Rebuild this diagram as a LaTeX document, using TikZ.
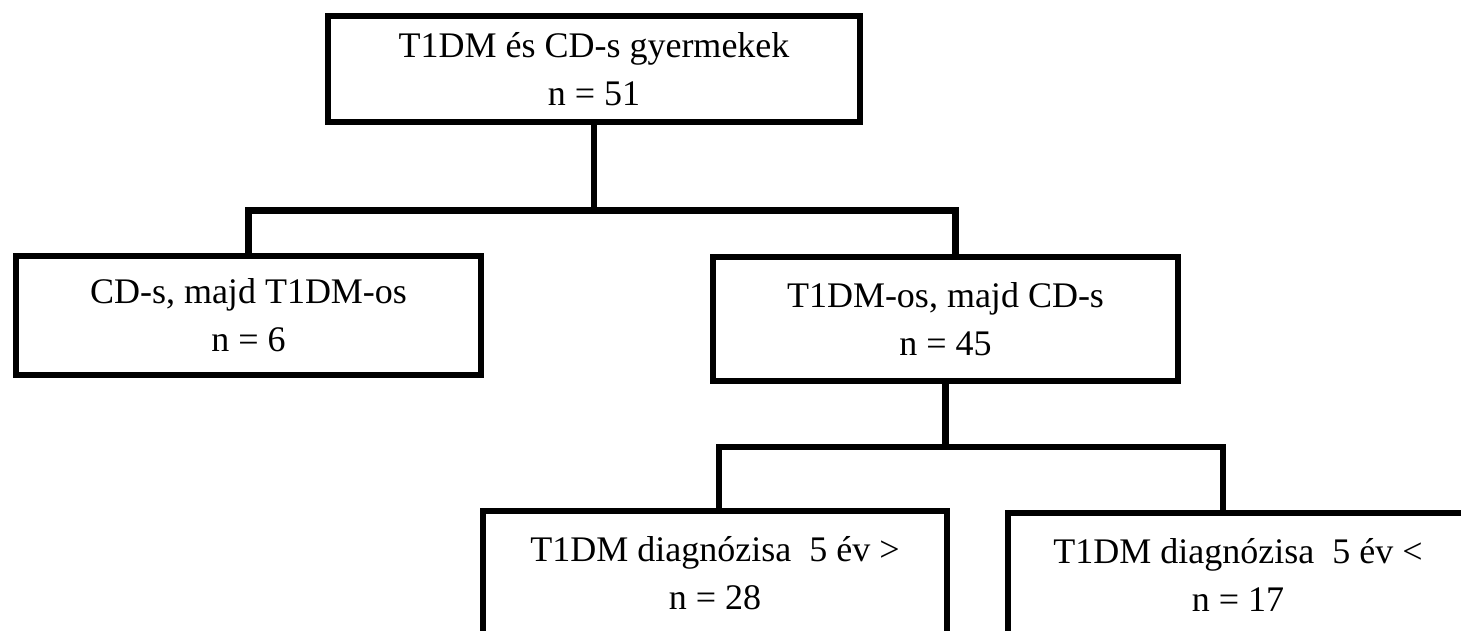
\documentclass[tikz,border=0pt]{standalone}
\usepackage{fontspec}
\setmainfont{Liberation Serif}
\begin{document}
\begin{tikzpicture}[x=1pt,y=-1pt,
  box/.style={draw, line width=6.5pt, line join=miter, outer sep=0pt, inner sep=0pt,
              align=center, font=\fontsize{36}{48}\selectfont},
  conn/.style={line width=6.5pt, line join=miter}]
\clip (0,0) rectangle (1461,630);
\fill[white] (0,0) rectangle (1461,630);
\node[box, minimum width=532pt, minimum height=106pt] (top) at (594,69)
  {T1DM és CD-s gyermekek\\n = 51};
\node[box, minimum width=465pt, minimum height=119pt] (left) at (248.5,315.5)
  {CD-s, majd T1DM-os\\n = 6};
\node[box, minimum width=465pt, minimum height=124pt] (right) at (945.5,319)
  {T1DM-os, majd CD-s\\n = 45};
\node[box, minimum width=464pt, minimum height=124pt] (bl) at (715,573)
  {T1DM diagnózisa\ \ 5 év >\\n = 28};
\node[box, minimum width=460pt, minimum height=124pt] (br) at (1238,575)
  {T1DM diagnózisa\ \ 5 év <\\n = 17};
\coordinate (b1) at (0,210.5);
\coordinate (b2) at (0,447);
\draw[conn] (top.south) -- (top.south |- b1);
\draw[conn] (left.north) -- (left.north |- b1) -- ([xshift=10pt]right.north |- b1) -- ([xshift=10pt]right.north);
\draw[conn] (right.south) -- (right.south |- b2);
\draw[conn] ([xshift=4pt]bl.north) -- ([xshift=4pt]bl.north |- b2) -- ([xshift=-15pt]br.north |- b2) -- ([xshift=-15pt]br.north);
\end{tikzpicture}
\end{document}
